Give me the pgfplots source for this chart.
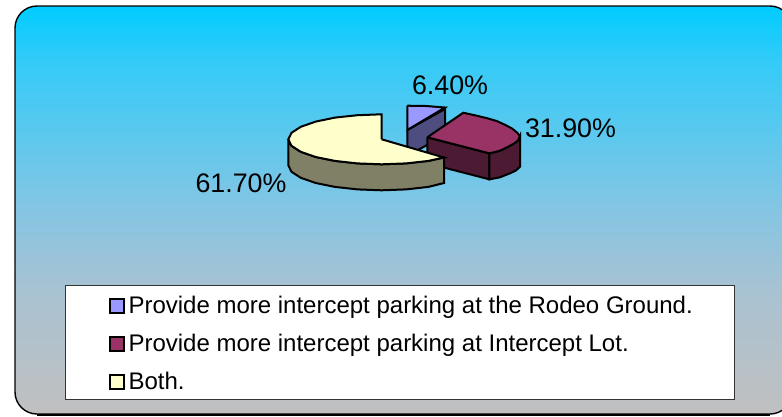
\documentclass[border=0pt]{standalone}
\usepackage{pgfplots}
\pgfplotsset{compat=1.18}
\usepackage{fontspec}
\setmainfont{Liberation Sans}
\definecolor{bluetop}{HTML}{9999FF}
\definecolor{blueside}{HTML}{4D4D80}
\definecolor{redtop}{HTML}{993366}
\definecolor{redside}{HTML}{4D1A33}
\definecolor{yeltop}{HTML}{FFFFCC}
\definecolor{yelside}{HTML}{808066}
\definecolor{bga}{HTML}{00CCFF}
\definecolor{bgb}{HTML}{33CBF8}
\definecolor{bgc}{HTML}{85C5E3}
\definecolor{bgd}{HTML}{A8C2D2}
\definecolor{bge}{HTML}{C0C0C0}
\pgfdeclareverticalshading{bgsh}{100bp}{color(0bp)=(bge); color(25bp)=(bge); color(40.2bp)=(bgd); color(50bp)=(bgc); color(68.4bp)=(bgb); color(75bp)=(bga); color(100bp)=(bga)}
\begin{document}
\begin{tikzpicture}
\begin{axis}[
  width=782pt,height=416pt,scale only axis,
  xmin=0,xmax=782,ymin=0,ymax=416,y dir=reverse,
  hide axis,clip=true,
  legend style={at={(axis cs:65,285)},anchor=north west,draw=black!80,line width=1pt,fill=white,
    inner xsep=42pt,inner ysep=7pt,row sep=14pt,
    font=\fontsize{24}{27}\selectfont,cells={anchor=west},
    nodes={inner ysep=1pt,inner xsep=0pt,text height=20pt,text depth=2pt}},
  legend cell align=left,
  legend image code/.code={\path (0pt,0pt) (19pt,0pt);\draw[#1,draw=black,line width=2pt] (1.5pt,-8pt) rectangle (15.5pt,6pt);},
]
\path[shading=bgsh,draw=black,line width=1.4pt,rounded corners=22pt]
  (axis cs:15,6) rectangle (axis cs:792,414);
\draw[black,line width=2pt] (axis cs:37,414.5) -- (axis cs:770,414.5);
% blue slice
\addplot[draw=black,line width=2pt,fill=blueside,forget plot] coordinates {(407.3,130)(445,109)(445,135)(407.3,156)(407.3,130)};
\addplot[draw=black,line width=2pt,fill=bluetop] coordinates {(407.3,105.7)(426,106)(445,107.5)(407.3,130)(407.3,105.7)};
\addlegendentry{Provide more intercept parking at the Rodeo Ground.}
% red slice
\addplot[draw=black,line width=2pt,fill=redside,forget plot] coordinates {(427.3,137.3)(489.3,153.3)(489.3,179.3)(427.3,163.3)(427.3,137.3)};
\addplot[draw=black,line width=2pt,fill=redside,forget plot] coordinates {(489.3,153.3)(495,152)(500,150.7)(508.3,146.7)(514,143.5)(518,140.5)(520,136)(520,166.7)(516,170.5)(510,173.3)(500,177.3)(495,178.3)(489.3,179.3)(489.3,153.3)};
\addplot[draw=black,line width=2pt,fill=redtop] coordinates {(427.3,137.3)(463.3,112.7)(476.7,115.7)(487,118.2)(496.7,121)(505,124.8)(511.7,128.3)(517,132.5)(520,136)(518,140.5)(514,143.5)(508.3,146.7)(500,150.7)(495,152)(489.3,153.3)(427.3,137.3)};
\addlegendentry{Provide more intercept parking at Intercept Lot.}
% yellow slice
\addplot[draw=black,line width=2pt,fill=yelside,forget plot] coordinates {(288.3,139.3)(291.5,145.8)(300.8,151.8)(315.7,157)(335,160.9)(357.5,163.4)(381.7,164.3)(405.9,163.4)(428.4,160.9)(444,157.5)(444,183)(428.4,186.9)(405.9,189.4)(381.7,190.3)(357.5,189.4)(335,186.9)(315.7,183)(300.8,177.8)(291.5,171.8)(288.3,165.3)(288.3,139.3)};
\addplot[draw=black,line width=2pt,fill=yeltop] coordinates {(381.7,139.3)(381.7,114.3)(357.5,115.2)(335,117.6)(315.7,121.6)(300.8,126.8)(291.5,132.8)(288.3,139.3)(291.5,145.8)(300.8,151.8)(315.7,157)(335,160.9)(357.5,163.4)(381.7,164.3)(405.9,163.4)(428.4,160.9)(444,157.5)(381.7,139.3)};
\addlegendentry{Both.}
\node[font=\fontsize{26.8}{30}\selectfont,inner sep=0pt] at (axis cs:450,85) {6.40\%};
\node[font=\fontsize{26.8}{30}\selectfont,inner sep=0pt] at (axis cs:570.5,128) {31.90\%};
\node[font=\fontsize{26.8}{30}\selectfont,inner sep=0pt] at (axis cs:241,183) {61.70\%};
\end{axis}
\pgfresetboundingbox
\useasboundingbox (0,0) rectangle (782pt,416pt);
\end{tikzpicture}
\end{document}
